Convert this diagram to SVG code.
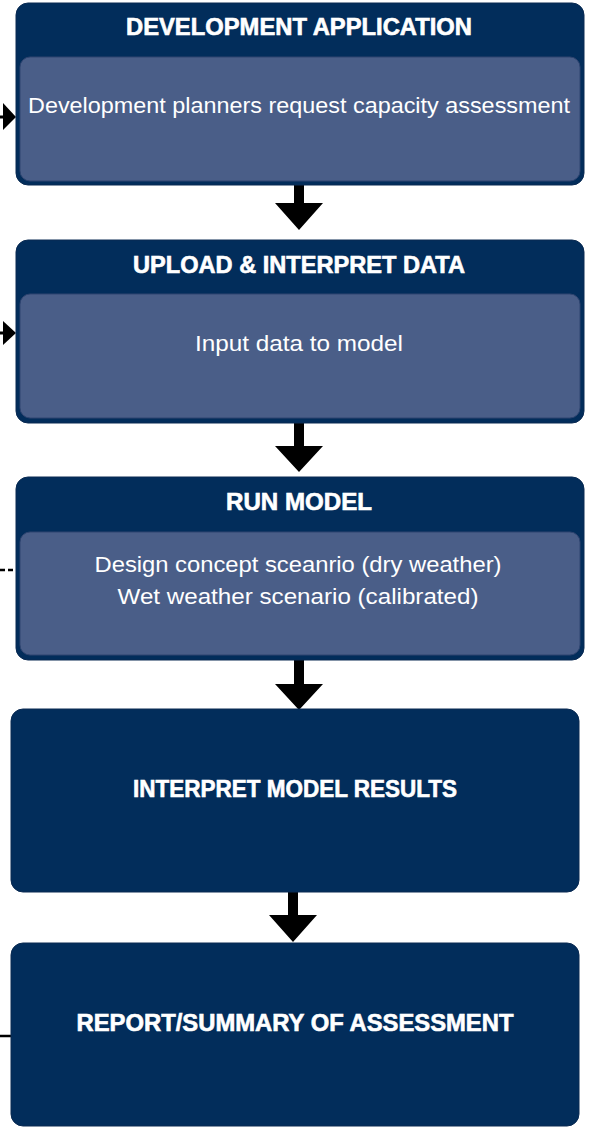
<svg xmlns="http://www.w3.org/2000/svg" width="589" height="1132" viewBox="0 0 589 1132">
<style>
.outer{fill:#022d5b;stroke:#0a2a52;stroke-width:1}
.inner{fill:#4a5e88;stroke:#2e4470;stroke-width:1}
.title{font-family:"Liberation Sans",Arial,sans-serif;font-weight:bold;font-size:23px;fill:#ffffff;stroke:#ffffff;stroke-width:0.6;text-anchor:middle}
.body{font-family:"Liberation Sans",Arial,sans-serif;font-size:22px;fill:#ffffff;text-anchor:middle}
.arrow{fill:#000000}
</style>
<rect width="589" height="1132" fill="#ffffff"/>
<g id="connectors">
  <polygon class="arrow" points="294,182 304,182 304,203 323,203 299,230 275,203 294,203"/>
  <polygon class="arrow" points="294,420 304,420 304,446 323,446 299,472 275,446 294,446"/>
  <polygon class="arrow" points="294,657 304,657 304,684 323,684 299,710 275,684 294,684"/>
  <polygon class="arrow" points="288,890 298,890 298,915 317,915 293,942 269,915 288,915"/>
  <line x1="0" y1="117" x2="6" y2="117" stroke="#000" stroke-width="3"/>
  <polygon class="arrow" points="3,103 16,117 3,130"/>
  <line x1="0" y1="333" x2="6" y2="333" stroke="#000" stroke-width="3"/>
  <polygon class="arrow" points="3,321 16,333 3,345"/>
  <line x1="0" y1="570" x2="16" y2="570" stroke="#000" stroke-width="2.5" stroke-dasharray="5,3"/>
  <line x1="0" y1="1036" x2="11" y2="1036" stroke="#000" stroke-width="2.5"/>
</g>
<g id="n1">
  <rect class="outer" x="16" y="3" width="568" height="182" rx="12"/>
  <rect class="inner" x="20" y="57" width="560" height="124" rx="10"/>
  <text class="title" x="299" y="35" textLength="346" lengthAdjust="spacingAndGlyphs">DEVELOPMENT APPLICATION</text>
  <text class="body" x="299" y="113" textLength="542" lengthAdjust="spacingAndGlyphs">Development planners request capacity assessment</text>
</g>
<g id="n2">
  <rect class="outer" x="16" y="240" width="568" height="183" rx="12"/>
  <rect class="inner" x="20" y="294" width="560" height="124" rx="10"/>
  <text class="title" x="299" y="273" textLength="332" lengthAdjust="spacingAndGlyphs">UPLOAD &amp; INTERPRET DATA</text>
  <text class="body" x="299" y="351" textLength="208" lengthAdjust="spacingAndGlyphs">Input data to model</text>
</g>
<g id="n3">
  <rect class="outer" x="16" y="477" width="568" height="183" rx="12"/>
  <rect class="inner" x="20" y="532" width="560" height="123" rx="10"/>
  <text class="title" x="299" y="510" textLength="146" lengthAdjust="spacingAndGlyphs">RUN MODEL</text>
  <text class="body" x="298" y="572" textLength="407" lengthAdjust="spacingAndGlyphs">Design concept sceanrio (dry weather)</text>
  <text class="body" x="298" y="604" textLength="361" lengthAdjust="spacingAndGlyphs">Wet weather scenario (calibrated)</text>
</g>
<g id="n4">
  <rect class="outer" x="11" y="709" width="568" height="183" rx="12"/>
  <text class="title" x="295" y="797" textLength="324" lengthAdjust="spacingAndGlyphs">INTERPRET MODEL RESULTS</text>
</g>
<g id="n5">
  <rect class="outer" x="11" y="943" width="568" height="183" rx="12"/>
  <text class="title" x="295" y="1031" textLength="437" lengthAdjust="spacingAndGlyphs">REPORT/SUMMARY OF ASSESSMENT</text>
</g>
</svg>
